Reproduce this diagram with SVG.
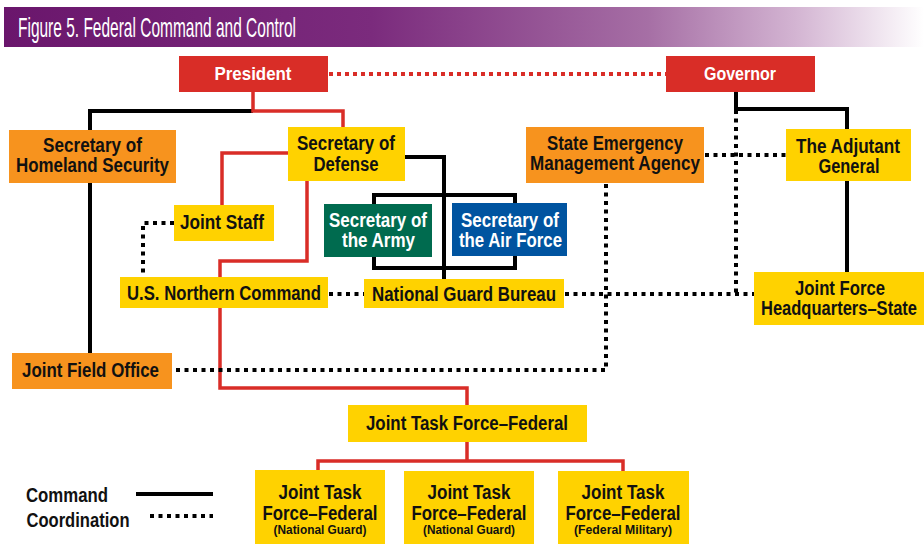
<svg xmlns="http://www.w3.org/2000/svg" width="924" height="544" viewBox="0 0 924 544">
<defs>
<linearGradient id="ban" x1="0" y1="0" x2="1" y2="0">
<stop offset="0" stop-color="#6a166c"/>
<stop offset="0.4" stop-color="#7b2b7d"/>
<stop offset="0.7" stop-color="#a66fa5"/>
<stop offset="0.86" stop-color="#d3b4d2"/>
<stop offset="1" stop-color="#ffffff"/>
</linearGradient>
</defs>
<style>
.t{font-family:"Liberation Sans Narrow","Liberation Sans",Arial,sans-serif;font-weight:bold;text-anchor:middle;fill:#111}
.w{fill:#fff}
.s{font-size:19px}
.m{font-size:20px}
.x{font-size:12px}
.y{fill:#ffd200}.o{fill:#f7931e}.r{fill:#d92d27}.g{fill:#006b4f}.b{fill:#0054a0}
.cb{fill:none;stroke:#000;stroke-width:4}
.cr{fill:none;stroke:#d92d27;stroke-width:3.5}
.db{fill:none;stroke:#000;stroke-width:4;stroke-dasharray:4 4.5}
.dr{fill:none;stroke:#d92d27;stroke-width:4;stroke-dasharray:4 4}
</style>
<rect width="924" height="544" fill="#fff"/>
<g id="title">
<rect x="4" y="7" width="920" height="40" fill="url(#ban)"/>
<text x="18" y="37" font-family="'Liberation Sans Narrow','Liberation Sans',Arial,sans-serif" font-size="28" fill="#fff" textLength="278" lengthAdjust="spacingAndGlyphs">Figure 5. Federal Command and Control</text>
</g>
<g id="connectors">
<path class="cb" d="M253 111H90V353"/>
<path class="cb" d="M405 157H444V279"/>
<rect class="cb" x="374" y="195" width="141" height="73"/>
<path class="cb" d="M736 92V109H847V272"/>
<path class="cr" d="M253 92V111H343V127"/>
<path class="cr" d="M288 153H222V205"/>
<path class="cr" d="M307 181V261H220V388H467V405"/>
<path class="cr" d="M467 442V461M318 471V461H623V471"/>
<path class="dr" d="M329 74H666"/>
<path class="db" d="M174 223H143V277"/>
<path class="db" d="M329 294H364"/>
<path class="db" d="M565 294H754"/>
<path class="db" d="M705 155H786"/>
<path class="db" d="M736 110V294"/>
<path class="db" d="M606 184V370H172"/>
</g>
<g id="president"><rect class="r" x="179" y="56" width="149" height="36"/><text class="t w s" x="253" y="80" textLength="77" lengthAdjust="spacingAndGlyphs">President</text></g>
<g id="governor"><rect class="r" x="666" y="56" width="149" height="36"/><text class="t w s" x="740" y="80" textLength="72" lengthAdjust="spacingAndGlyphs">Governor</text></g>
<g id="shs"><rect class="o" x="9" y="130" width="167" height="53"/>
<text class="t m" x="92.5" y="152" textLength="99" lengthAdjust="spacingAndGlyphs">Secretary of</text>
<text class="t m" x="92.5" y="172" textLength="153" lengthAdjust="spacingAndGlyphs">Homeland Security</text></g>
<g id="secdef"><rect class="y" x="288" y="127" width="117" height="54"/>
<text class="t m" x="346" y="150" textLength="98" lengthAdjust="spacingAndGlyphs">Secretary of</text>
<text class="t m" x="346" y="171" textLength="65" lengthAdjust="spacingAndGlyphs">Defense</text></g>
<g id="sema"><rect class="o" x="526" y="127" width="178" height="56"/>
<text class="t m" x="615" y="150" textLength="136" lengthAdjust="spacingAndGlyphs">State Emergency</text>
<text class="t m" x="615" y="170" textLength="170" lengthAdjust="spacingAndGlyphs">Management Agency</text></g>
<g id="tag"><rect class="y" x="786" y="129" width="125" height="52"/>
<text class="t m" x="848" y="153" textLength="104" lengthAdjust="spacingAndGlyphs">The Adjutant</text>
<text class="t m" x="849" y="173" textLength="61" lengthAdjust="spacingAndGlyphs">General</text></g>
<g id="jointstaff"><rect class="y" x="174" y="205" width="100" height="36"/>
<text class="t m" x="222" y="229" textLength="84" lengthAdjust="spacingAndGlyphs">Joint Staff</text></g>
<g id="army"><rect class="g" x="324" y="204" width="108" height="53"/>
<text class="t w m" x="378" y="227" textLength="98" lengthAdjust="spacingAndGlyphs">Secretary of</text>
<text class="t w m" x="378.5" y="247" textLength="73" lengthAdjust="spacingAndGlyphs">the Army</text></g>
<g id="airforce"><rect class="b" x="452" y="203" width="115" height="53"/>
<text class="t w m" x="510" y="227" textLength="98" lengthAdjust="spacingAndGlyphs">Secretary of</text>
<text class="t w m" x="510.5" y="247" textLength="103" lengthAdjust="spacingAndGlyphs">the Air Force</text></g>
<g id="northcom"><rect class="y" x="120" y="277" width="208" height="31"/>
<text class="t m" x="224" y="300" textLength="194" lengthAdjust="spacingAndGlyphs">U.S. Northern Command</text></g>
<g id="ngb"><rect class="y" x="364" y="279" width="200" height="29"/>
<text class="t m" x="464" y="301" textLength="184" lengthAdjust="spacingAndGlyphs">National Guard Bureau</text></g>
<g id="jfhq"><rect class="y" x="754" y="272" width="170" height="53"/>
<text class="t m" x="840" y="295" textLength="90" lengthAdjust="spacingAndGlyphs">Joint Force</text>
<text class="t m" x="839" y="315" textLength="156" lengthAdjust="spacingAndGlyphs">Headquarters–State</text></g>
<g id="jfo"><rect class="o" x="12" y="353" width="160" height="36"/>
<text class="t m" x="90.5" y="377" textLength="137" lengthAdjust="spacingAndGlyphs">Joint Field Office</text></g>
<g id="jtff"><rect class="y" x="348" y="405" width="239" height="37"/>
<text class="t m" x="467" y="430" textLength="202" lengthAdjust="spacingAndGlyphs">Joint Task Force–Federal</text></g>
<g id="jtff-ng1"><rect class="y" x="255" y="470" width="130" height="74"/>
<text class="t m" x="320" y="499" textLength="83" lengthAdjust="spacingAndGlyphs">Joint Task</text>
<text class="t m" x="320" y="520" textLength="115" lengthAdjust="spacingAndGlyphs">Force–Federal</text>
<text class="t x" x="320" y="534" textLength="93" lengthAdjust="spacingAndGlyphs">(National Guard)</text></g>
<g id="jtff-ng2"><rect class="y" x="404" y="471" width="130" height="73"/>
<text class="t m" x="469" y="499" textLength="83" lengthAdjust="spacingAndGlyphs">Joint Task</text>
<text class="t m" x="469" y="520" textLength="115" lengthAdjust="spacingAndGlyphs">Force–Federal</text>
<text class="t x" x="469" y="534" textLength="92" lengthAdjust="spacingAndGlyphs">(National Guard)</text></g>
<g id="jtff-fm"><rect class="y" x="558" y="471" width="131" height="73"/>
<text class="t m" x="623" y="499" textLength="83" lengthAdjust="spacingAndGlyphs">Joint Task</text>
<text class="t m" x="623" y="520" textLength="115" lengthAdjust="spacingAndGlyphs">Force–Federal</text>
<text class="t x" x="623" y="534" textLength="98" lengthAdjust="spacingAndGlyphs">(Federal Military)</text></g>
<g id="legend">
<text class="t m" x="67" y="502" textLength="82" lengthAdjust="spacingAndGlyphs">Command</text>
<text class="t m" x="78" y="527" textLength="103" lengthAdjust="spacingAndGlyphs">Coordination</text>
<path class="cb" d="M136 494H213"/>
<path class="db" d="M150 516H213"/>
</g>
</svg>
